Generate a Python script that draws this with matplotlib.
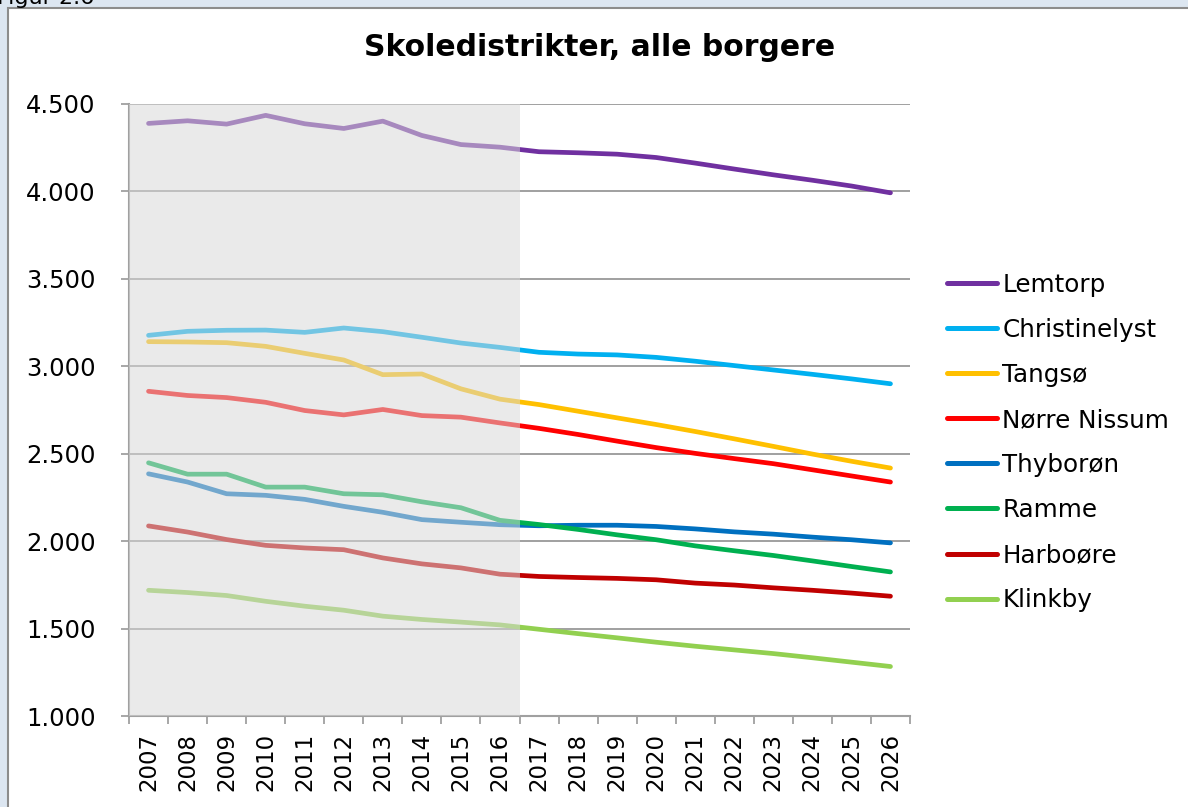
import numpy as np
import matplotlib
matplotlib.use("Agg")
import matplotlib.pyplot as plt
from matplotlib.patches import Rectangle
from matplotlib.ticker import FuncFormatter

years = list(range(2007, 2027))

districts = ["Lemtorp", "Christinelyst", "Tangsø", "Nørre Nissum",
             "Thyborøn", "Ramme", "Harboøre", "Klinkby"]
colours = ["#7030a0", "#00b0f0", "#ffc000", "#ff0000",
           "#0070c0", "#00b050", "#c00000", "#92d050"]

lemtorp = [4389, 4404, 4385, 4435, 4387, 4360, 4402, 4320, 4268, 4253,
           4227, 4221, 4213, 4194, 4162, 4128, 4095, 4064, 4031, 3992]
christinelyst = [3177, 3200, 3206, 3207, 3194, 3219, 3198, 3166, 3133, 3108,
                 3080, 3070, 3065, 3051, 3029, 3004, 2979, 2954, 2928, 2900]
tangsoe = [3141, 3139, 3135, 3114, 3074, 3036, 2952, 2956, 2871, 2812,
           2781, 2743, 2705, 2667, 2627, 2585, 2542, 2498, 2457, 2418]
noerre_nissum = [2857, 2833, 2821, 2794, 2747, 2722, 2753, 2718, 2709, 2676,
                 2645, 2610, 2572, 2535, 2502, 2472, 2443, 2408, 2373, 2338]
thyboroen = [2385, 2338, 2271, 2262, 2239, 2199, 2165, 2123, 2108, 2094,
             2088, 2091, 2091, 2084, 2070, 2053, 2040, 2023, 2008, 1990]
ramme = [2448, 2383, 2383, 2309, 2309, 2271, 2265, 2225, 2191, 2119,
         2095, 2067, 2036, 2008, 1973, 1945, 1918, 1887, 1855, 1824]
harboeoere = [2087, 2052, 2009, 1976, 1961, 1951, 1904, 1870, 1847, 1811,
              1798, 1792, 1787, 1779, 1760, 1749, 1733, 1719, 1703, 1685]
klinkby = [1719, 1706, 1689, 1656, 1628, 1605, 1571, 1552, 1537, 1521,
           1496, 1471, 1447, 1422, 1399, 1378, 1357, 1333, 1308, 1283]

series = [lemtorp, christinelyst, tangsoe, noerre_nissum,
          thyboroen, ramme, harboeoere, klinkby]

last_history_year = 2016

fig = plt.figure(figsize=(11.88, 8.07), dpi=100, facecolor="#dce6f1")

# white chart box with grey border, behind everything
fig.patches.append(Rectangle((8 / 1188, -0.1), 1.2, 1.1 - 8 / 807,
                             transform=fig.transFigure, facecolor="white",
                             edgecolor="#8c8c8c", lw=1.5, zorder=-10))
fig.text(-3 / 1188, 1 - 4 / 807, "Figur 2.6", fontsize=16, va="baseline",
         ha="left", color="black")

ax = fig.add_axes([129 / 1188, 1 - 716 / 807, (910 - 129) / 1188, (716 - 104) / 807])
ax.set_facecolor("none")

x = np.arange(len(years))
for name, col, vals in zip(districts, colours, series):
    ax.plot(x, vals, color=col, lw=3.4, solid_capstyle="round",
            solid_joinstyle="round", label=name, zorder=2)

# history shading laid over the lines
split = years.index(last_history_year) + 0.5
ax.axvspan(-0.5, split, color="#d9d9d9", alpha=0.53, lw=0, zorder=3)

ax.set_xlim(-0.5, len(years) - 0.5)
ax.set_ylim(1000, 4500)
ax.set_yticks(np.arange(1000, 4501, 500))
ax.yaxis.set_major_formatter(FuncFormatter(lambda v, p: f"{int(v):,}".replace(",", ".")))
ax.yaxis.grid(True, color="#999999", lw=1.3, zorder=0.5)
ax.set_axisbelow(True)

ax.set_xticks(x)
ax.set_xticklabels([str(y) for y in years], rotation=90, fontsize=16.5)
ax.set_xticks(np.arange(-0.5, len(years)), minor=True)
ax.tick_params(axis="x", which="major", length=0, pad=12)
ax.tick_params(axis="x", which="minor", length=6, color="#a0a0a0", width=1.3)
ax.tick_params(axis="y", length=6, color="#a0a0a0", width=1.3, labelsize=17.5, pad=18)

for s in ["top", "right"]:
    ax.spines[s].set_visible(False)
for s in ["left", "bottom"]:
    ax.spines[s].set_color("#a0a0a0")
    ax.spines[s].set_linewidth(1.5)

fig.text(600 / 1188, 1 - 47 / 807, "Skoledistrikter, alle borgere",
         fontsize=21.5, fontweight="bold", ha="center", va="center")

leg = fig.legend(loc="upper left", bbox_to_anchor=(947 / 1188, 1 - 273 / 807),
                 frameon=False, fontsize=17.7, handlelength=2.05, handletextpad=0.2,
                 labelspacing=0.855, borderpad=0, borderaxespad=0)
for line in leg.get_lines():
    line.set_linewidth(3.6)

fig.savefig("out.png", dpi=100, facecolor=fig.get_facecolor())
